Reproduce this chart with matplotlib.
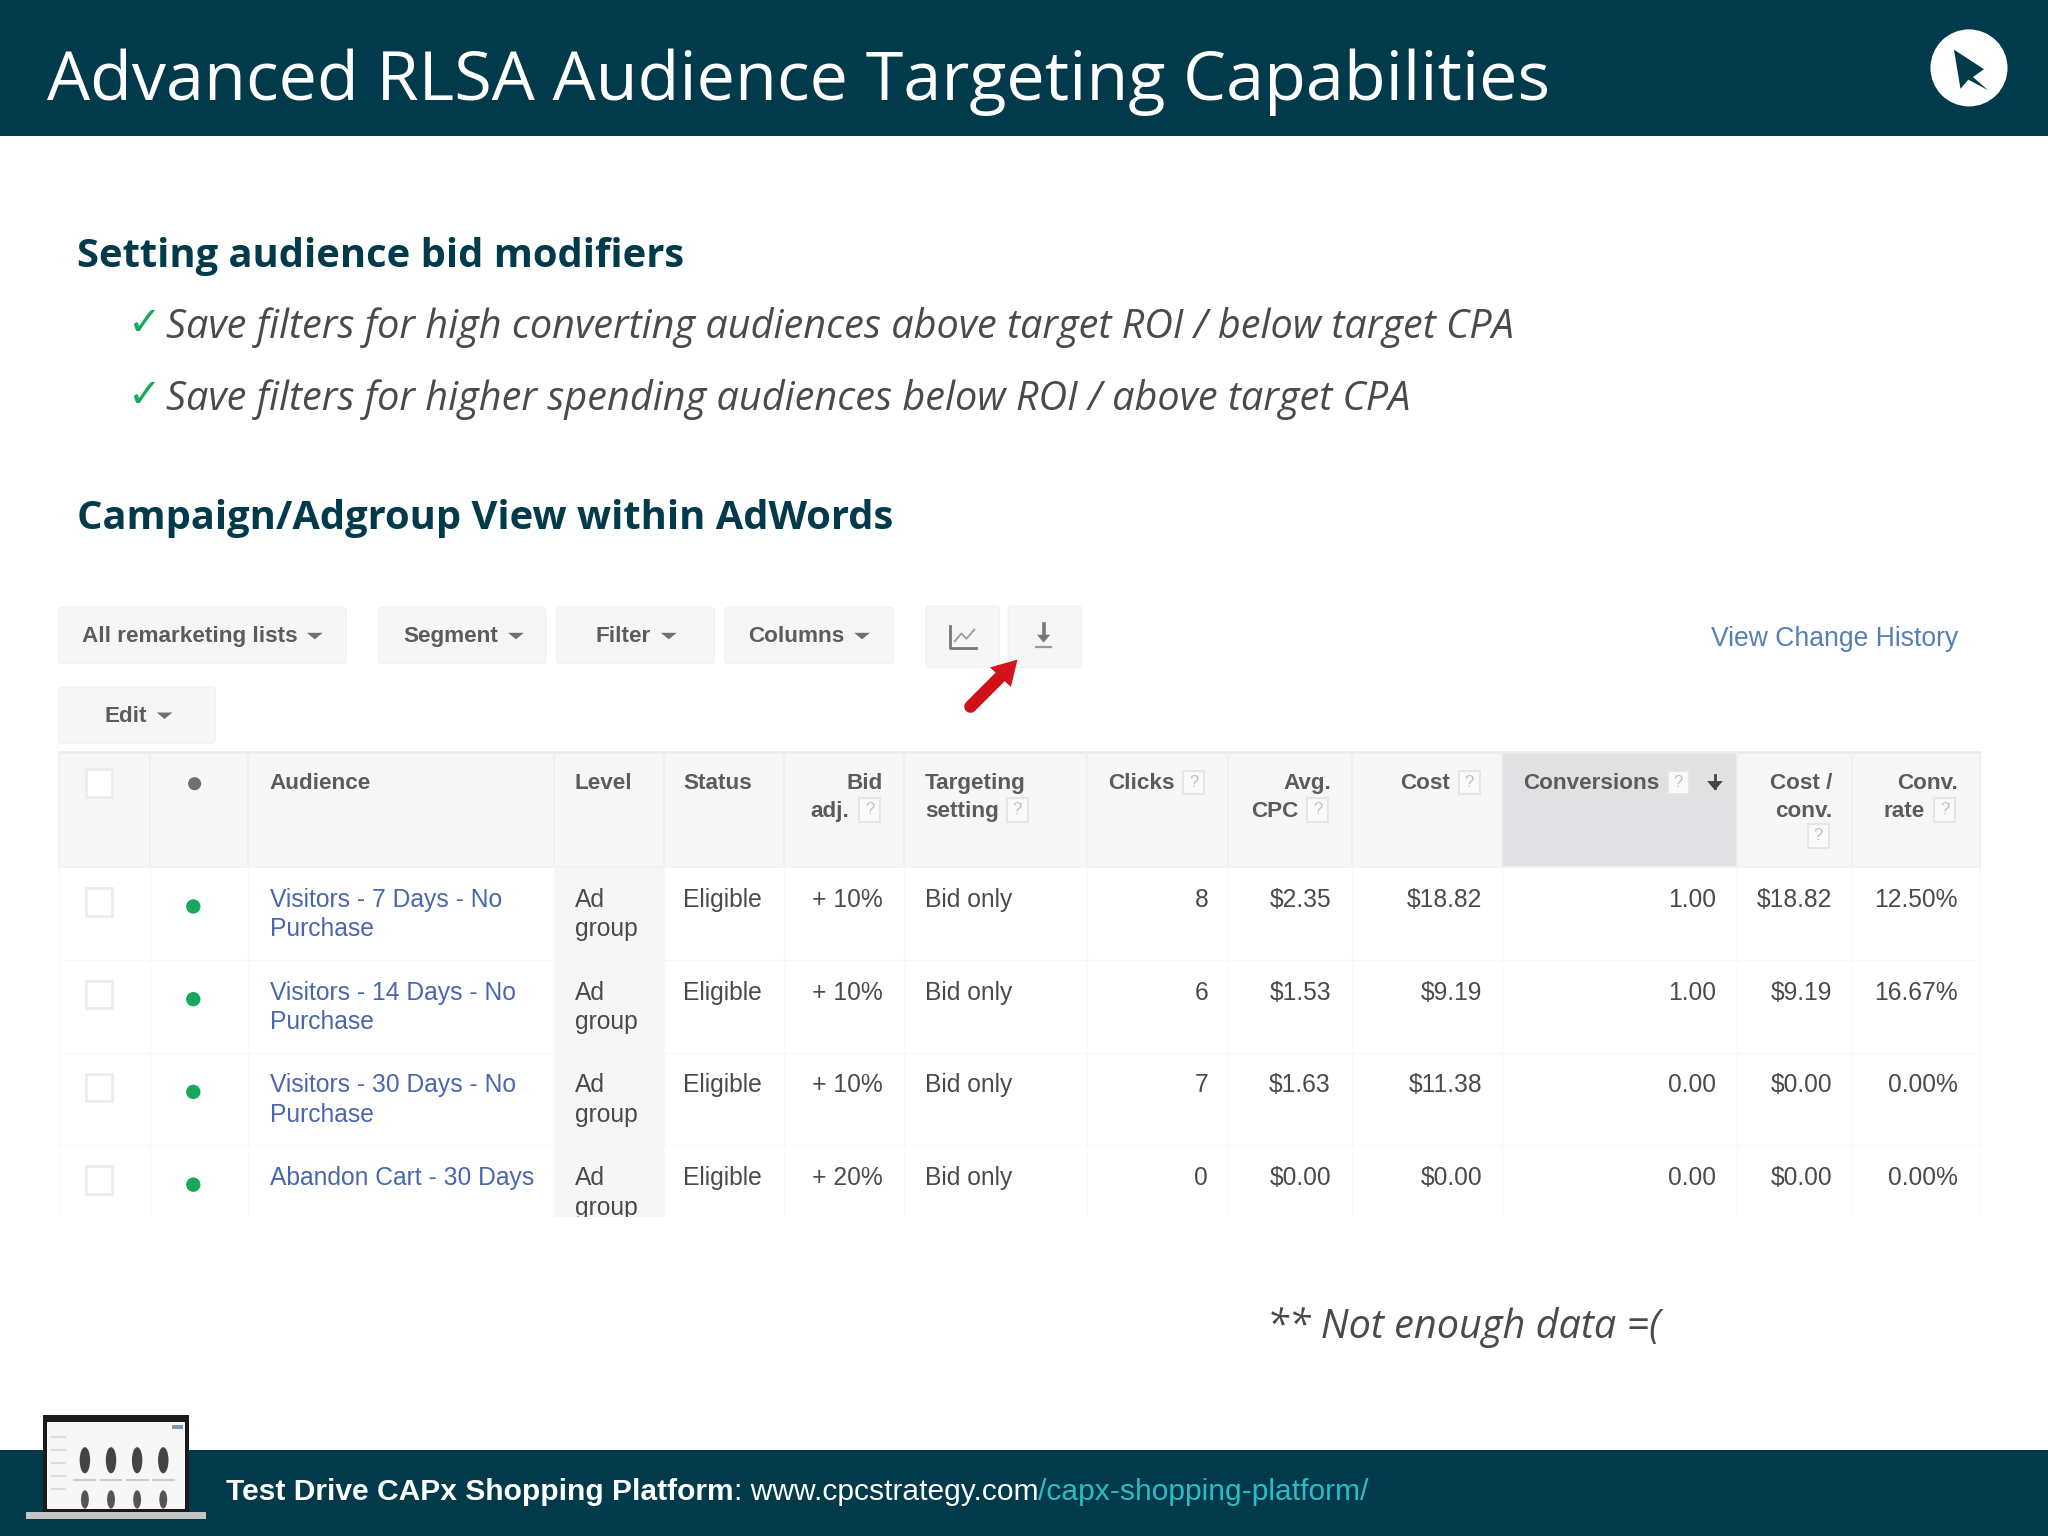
import matplotlib
matplotlib.use('Agg')
import matplotlib.pyplot as plt
from matplotlib.patches import Rectangle, FancyBboxPatch, Circle, Polygon, Ellipse

NAVY = '#003a4b'
TEAL_LINK = '#2bbcc6'
GREEN = '#17a85c'
GREY_TXT = '#4a4a4a'
LINK = '#4a66ac'
HDR_BG = '#f7f7f8'

title = 'Advanced RLSA Audience Targeting Capabilities'
heading1 = 'Setting audience bid modifiers'
heading2 = 'Campaign/Adgroup View within AdWords'
bullets = ['Save filters for high converting audiences above target ROI / below target CPA',
           'Save filters for higher spending audiences below ROI / above target CPA']
note = '** Not enough data =('

buttons = ['All remarketing lists', 'Segment', 'Filter', 'Columns', 'Edit']

audiences = [['Visitors - 7 Days - No', 'Purchase'],
             ['Visitors - 14 Days - No', 'Purchase'],
             ['Visitors - 30 Days - No', 'Purchase'],
             ['Abandon Cart - 30 Days']]
status = ['Eligible', 'Eligible', 'Eligible', 'Eligible']
bid_adj = ['+ 10%', '+ 10%', '+ 10%', '+ 20%']
targeting = ['Bid only', 'Bid only', 'Bid only', 'Bid only']
clicks = ['8', '6', '7', '0']
avg_cpc = ['$2.35', '$1.53', '$1.63', '$0.00']
cost = ['$18.82', '$9.19', '$11.38', '$0.00']
conversions = ['1.00', '1.00', '0.00', '0.00']
cost_conv = ['$18.82', '$9.19', '$0.00', '$0.00']
conv_rate = ['12.50%', '16.67%', '0.00%', '0.00%']

fig = plt.figure(figsize=(20.48, 15.36), dpi=100)
ax = fig.add_axes([0, 0, 1, 1])
# axes units are the 1568 x 1176 layout of the slide
ax.set_xlim(0, 1568)
ax.set_ylim(1176, 0)
ax.axis('off')


def rect(x0, y0, x1, y1, color, z=1, **kw):
    ax.add_patch(Rectangle((x0, y0), x1 - x0, y1 - y0, facecolor=color, edgecolor='none', zorder=z, **kw))


def txt(x, y, s, size=17.7, color=GREY_TXT, ha='left', weight='normal', family='Liberation Sans', style='normal'):
    return ax.text(x, y, s, fontsize=size, color=color, ha=ha, va='center', fontweight=weight,
                   family=family, style=style, zorder=5)


def qmark(x, y):
    ax.add_patch(Rectangle((x - 8, y - 9), 16, 18, facecolor='#fafafa', edgecolor='#e6e6e6', lw=1.5, zorder=4))
    txt(x, y, '?', size=12, color='#c0c0c0', ha='center')


def checkbox(x, y):
    ax.add_patch(Rectangle((x - 10, y - 10), 20, 21, facecolor='white', edgecolor='#ececec', lw=2, zorder=4))


# header and footer bands
rect(0, 0, 1568, 104.5, NAVY)
rect(0, 1110, 1568, 1176, NAVY)
txt(36, 63, title, size=49.15, color='white', family='Open Sans')

# cursor logo
ax.add_patch(Circle((1507.5, 52), 29.5, facecolor='white', edgecolor='none', zorder=3))
ax.add_patch(Polygon([(1496, 38), (1519, 53), (1510.5, 59), (1522, 69), (1507, 61), (1501, 68)],
                     closed=True, facecolor=NAVY, edgecolor='none', zorder=4))

# text block
txt(59, 196, heading1, size=28.7, color=NAVY, weight='bold', family='Open Sans')
txt(59, 397, heading2, size=28.7, color=NAVY, weight='bold', family='Open Sans')
for y, b in zip([251, 306], bullets):
    txt(98, y - 3, '\u2713', size=29, color=GREEN, family='DejaVu Sans')
    txt(127, y, b, size=28.5, color=GREY_TXT, family='Open Sans', style='italic')
txt(970, 1016, note, size=28.5, color=GREY_TXT, family='Open Sans', style='italic')

# toolbar buttons
btn_x = [(45, 265), (290, 418), (426, 547), (555, 684), (45, 165)]
btn_y = [(465, 508), (465, 508), (465, 508), (465, 508), (526, 569)]
btn_txt = [63, 309, 456, 573, 80]
btn_caret = [241, 395, 512, 660, 126]
for (x0, x1), (y0, y1), tx, cx, lab in zip(btn_x, btn_y, btn_txt, btn_caret, buttons):
    ax.add_patch(FancyBboxPatch((x0 + 2, y0 + 2), x1 - x0 - 4, y1 - y0 - 4, boxstyle='round,pad=2,rounding_size=3',
                                facecolor='#f6f6f7', edgecolor='#f2f2f2', lw=1, zorder=2))
    ym = (y0 + y1) / 2
    txt(tx, ym + 1, lab, size=16.2, color='#5c5c5c', weight='bold')
    ax.add_patch(Polygon([(cx - 6, ym - 2), (cx + 6, ym - 2), (cx, ym + 3)], closed=True,
                         facecolor='#707070', edgecolor='none', zorder=5))

# chart and download icon buttons
for x0, x1 in [(709, 765), (772, 828)]:
    ax.add_patch(FancyBboxPatch((x0 + 2, 466), x1 - x0 - 4, 43, boxstyle='round,pad=2,rounding_size=3',
                                facecolor='#f6f6f7', edgecolor='#f2f2f2', lw=1, zorder=2))
ax.plot([727, 727, 747], [479, 496, 496], color='#777777', lw=2, zorder=5)
ax.plot([731, 736, 740, 746], [491, 485, 489, 482], color='#999999', lw=1.3, zorder=5)
ax.plot([799, 799], [478, 488], color='#777777', lw=2.6, zorder=5)
ax.add_patch(Polygon([(794, 486), (804, 486), (799, 492)], closed=True, facecolor='#777777', edgecolor='none', zorder=5))
ax.plot([793, 805], [495, 495], color='#999999', lw=1.6, zorder=5)

# red arrow
ax.plot([743, 766], [541, 518], color='#cf1119', lw=9, solid_capstyle='round', zorder=6)
ax.add_patch(Polygon([(779, 505), (774, 526), (758, 511)], closed=True, facecolor='#d3141d', edgecolor='none', zorder=6))

txt(1499, 489, 'View Change History', size=19.1, color='#5680b4', ha='right')

# table
col_x = [45, 115, 190, 424, 508, 600, 692, 832, 940, 1035, 1150, 1330, 1418, 1516]
hdr_top, hdr_bot, tbl_bot = 576, 664, 932
rect(col_x[0], hdr_top, col_x[-1], hdr_bot, HDR_BG)
rect(1150, hdr_top, 1330, hdr_bot, '#e1e1e3', z=2)
rect(424, hdr_bot, 508, tbl_bot, '#f6f6f7')
ax.plot([col_x[0], col_x[-1]], [hdr_top, hdr_top], color='#ebebeb', lw=1.8, zorder=3)
ax.plot([col_x[0], col_x[-1]], [hdr_bot, hdr_bot], color='#f2f2f2', lw=1.2, zorder=3)
for x in col_x:
    ax.plot([x, x], [hdr_top, hdr_bot], color='#f0f0f0', lw=1.3, zorder=3)
    ax.plot([x, x], [hdr_bot, tbl_bot], color='#f8f8f8', lw=1, zorder=3)
for y in [735, 806, 877]:
    ax.plot([col_x[0], col_x[-1]], [y, y], color='#f8f8f8', lw=1, zorder=3)

# column headers
H = dict(size=16.2, color='#5c5c5c', weight='bold')
checkbox(76, 599)
ax.add_patch(Circle((149, 600), 5, facecolor='#707070', edgecolor='none', zorder=5))
txt(206, 600, 'Audience', **H)
txt(440, 600, 'Level', **H)
txt(523, 600, 'Status', **H)
txt(676, 600, 'Bid', ha='right', **H)
txt(650, 621, 'adj.', ha='right', **H)
qmark(666, 620)
txt(708, 600, 'Targeting', **H)
txt(708, 621, 'setting', **H)
qmark(779, 620)
txt(899, 600, 'Clicks', ha='right', **H)
qmark(914, 599)
txt(1019, 600, 'Avg.', ha='right', **H)
txt(994, 621, 'CPC', ha='right', **H)
qmark(1009, 620)
txt(1110, 600, 'Cost', ha='right', **H)
qmark(1125, 599)
txt(1166, 600, 'Conversions', **H)
qmark(1285, 599)
ax.plot([1313, 1313], [593, 603], color='#444444', lw=2, zorder=5)
ax.add_patch(Polygon([(1307, 598), (1319, 598), (1313, 605)], closed=True, facecolor='#444444', edgecolor='none', zorder=5))
txt(1403, 600, 'Cost /', ha='right', **H)
txt(1403, 621, 'conv.', ha='right', **H)
qmark(1392, 640)
txt(1499, 600, 'Conv.', ha='right', **H)
txt(1474, 621, 'rate', ha='right', **H)
qmark(1489, 620)

# table rows
row_y = [689, 760, 831, 902]
line2 = 22.5
for i, y in enumerate(row_y):
    checkbox(76, y + 1)
    ax.add_patch(Circle((148, y + 5), 5.5, facecolor=GREEN, edgecolor='none', zorder=5))
    for j, part in enumerate(audiences[i]):
        txt(207, y + j * line2, part, color=LINK)
    txt(440, y, 'Ad')
    txt(440, y + line2, 'group')
    txt(523, y, status[i])
    txt(676, y, bid_adj[i], ha='right')
    txt(708, y, targeting[i])
    txt(925, y, clicks[i], ha='right')
    txt(1019, y, avg_cpc[i], ha='right')
    txt(1135, y, cost[i], ha='right')
    txt(1314, y, conversions[i], ha='right')
    txt(1403, y, cost_conv[i], ha='right')
    txt(1499, y, conv_rate[i], ha='right')

# the screenshot is cut off under the last row
rect(30, tbl_bot, 1530, 960, 'white', z=7)

# laptop thumbnail in the footer
rect(33, 1083, 145, 1158, '#1a1a1a', z=3)
rect(36, 1089, 142, 1155, '#f7f7f7', z=4)
rect(20, 1158, 158, 1163, '#c4c4c4', z=3)
rect(132, 1091, 140, 1094, '#7f97a8', z=5)
for x in [65, 85, 105, 125]:
    ax.add_patch(Ellipse((x, 1118), 8, 20, facecolor='#444444', edgecolor='none', zorder=5))
    ax.add_patch(Ellipse((x, 1148), 6, 14, facecolor='#555555', edgecolor='none', zorder=5))
    ax.plot([x - 8, x + 8], [1133, 1133], color='#cccccc', lw=1.5, zorder=5)
for y in [1100, 1110, 1120, 1130, 1140]:
    ax.plot([40, 50], [y, y], color='#dddddd', lw=1.5, zorder=5)

# footer text, three runs placed one after the other
fig.canvas.draw()
renderer = fig.canvas.get_renderer()
x = 173
for s, c, w in [('Test Drive CAPx Shopping Platform', 'white', 'bold'),
                (': www.cpcstrategy.com', 'white', 'normal'),
                ('/capx-shopping-platform/', TEAL_LINK, 'normal')]:
    t = txt(x, 1142, s, size=21.65, color=c, weight=w)
    ext = t.get_window_extent(renderer)
    x = ax.transData.inverted().transform((ext.x1, ext.y0))[0]

fig.savefig('out.png', dpi=100)
